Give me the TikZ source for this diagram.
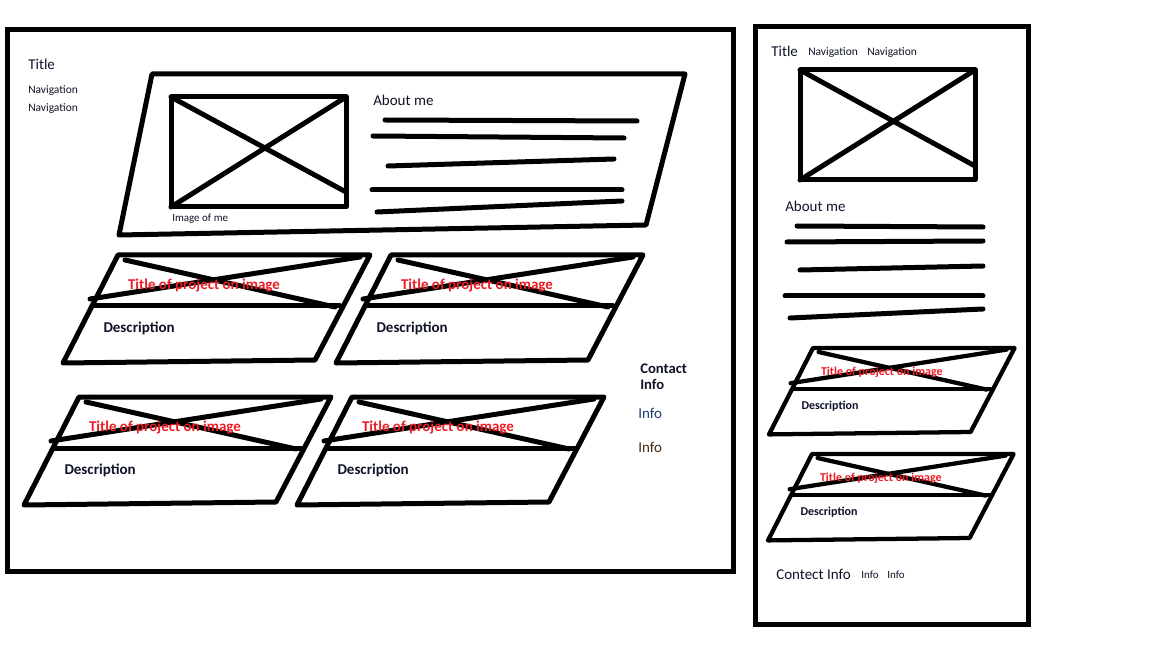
\documentclass[tikz,border=0pt]{standalone}
\usepackage{fontspec}
\setmainfont{Carlito}
\definecolor{paintred}{HTML}{ED1C24}
\definecolor{infoblue}{HTML}{1F3C6E}
\definecolor{infobrown}{HTML}{4A2A10}
\definecolor{inktext}{HTML}{10142A}

% project card: #1 name, #2 x, #3 y, #4 unit (pt), #5 line width, #6 title size, #7 description size
\newcommand\projcard[7]{%
  \begin{scope}[shift={(#2,#3)}, x=#4pt, y=-#4pt, line width=#5]
    \draw[pen] (0,0) -- (252,0) -- (197,105) -- (-55,108) -- cycle;
    \draw[pen] (-25,51) -- (222,51);
    \draw[pen] (7,5) -- (217,52);
    \draw[pen] (-28,44) -- (242,2);
    \node[font=\fontsize{#6}{#6}\selectfont\bfseries, text=paintred, inner sep=0pt] (#1-title) at (86,31) {Title of project on image};
    \node[txt, font=\fontsize{#7}{#7}\selectfont\bfseries] (#1-desc) at (-17,73) {Description};
  \end{scope}}

\begin{document}
\begin{tikzpicture}[x=0.75pt, y=-0.75pt,
  pen/.style={line join=round, line cap=round},
  thick ink/.style={line width=3.75pt, line join=round, line cap=round},
  txt/.style={anchor=west, inner sep=0pt, text=inktext},
  big/.style={txt, font=\fontsize{11.25}{12}\selectfont},
  small/.style={txt, font=\fontsize{8.6}{10}\selectfont},
  tiny/.style={txt, font=\fontsize{8.25}{10}\selectfont}]

  \fill[white] (0,0) rectangle (1152,648);
  \useasboundingbox (0,0) rectangle (1152,648);

  % ---------- desktop layout ----------
  \draw[line width=3.75pt] (7,30) rectangle (733,571);
  \node[big] (d-title) at (28,64) {Title};
  \node[small] (d-nav1) at (28,91) {Navigation};
  \node[small] (d-nav2) at (28,109) {Navigation};

  % about-me panel
  \draw[thick ink] (152,74) -- (685,74) -- (646,225) -- (119,235) -- cycle;
  \draw[thick ink] (171,97) rectangle (346,207);
  \draw[thick ink] (171,97) -- (346,192);
  \draw[thick ink] (171,207) -- (346,97);
  \node[tiny] (d-img) at (172,219) {Image of me};
  \node[big] (d-about) at (373,100) {About me};
  \draw[thick ink] (385,120) -- (637,121);
  \draw[thick ink] (373,136) -- (624,138);
  \draw[thick ink] (388,166) -- (614,159);
  \draw[thick ink] (372,190) -- (622,190);
  \draw[thick ink] (377,212) -- (622,201);

  % project cards
  \projcard{p1}{118}{255}{0.75}{3.75pt}{11.25}{11.25}
  \projcard{p2}{391}{255}{0.75}{3.75pt}{11.25}{11.25}
  \projcard{p3}{79}{397}{0.75}{3.75pt}{11.25}{11.25}
  \projcard{p4}{352}{397}{0.75}{3.75pt}{11.25}{11.25}

  % contact column
  \node[txt, font=\fontsize{11}{12}\selectfont\bfseries, align=left] (d-contact) at (640,377) {Contact\\Info};
  \node[big, text=infoblue] (d-info1) at (638,413) {Info};
  \node[big, text=infobrown] (d-info2) at (638,447) {Info};

  % ---------- mobile layout ----------
  \draw[line width=3.75pt] (755,27) rectangle (1028,624);
  \node[big] (m-title) at (771,51) {Title};
  \node[small] (m-nav1) at (808,53) {Navigation};
  \node[small] (m-nav2) at (867,53) {Navigation};

  \draw[thick ink] (800,70) rectangle (975,180);
  \draw[thick ink] (800,70) -- (975,166);
  \draw[thick ink] (800,180) -- (975,70);

  \node[big] (m-about) at (785,206) {About me};
  \draw[thick ink] (797,226) -- (983,227);
  \draw[thick ink] (787,242) -- (983,241);
  \draw[thick ink] (800,270) -- (983,266);
  \draw[thick ink] (785,296) -- (983,296);
  \draw[thick ink] (790,318) -- (983,309);

  \projcard{q1}{813}{348}{0.6}{3.2pt}{9}{9}
  \projcard{q2}{812}{454}{0.6}{3.2pt}{9}{9}

  \node[big] (m-contact) at (776,574) {Contect Info};
  \node[tiny] (m-info1) at (861,575) {Info};
  \node[tiny] (m-info2) at (887,575) {Info};
\end{tikzpicture}
\end{document}
